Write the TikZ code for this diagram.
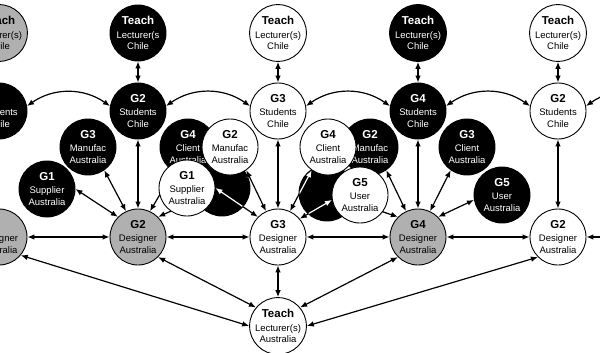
\documentclass[tikz,border=0pt]{standalone}
\usepackage{fontspec}
\setmainfont{Liberation Sans}
\usetikzlibrary{arrows.meta}
\definecolor{dgray}{RGB}{176,176,176}
\newcommand\ttl[1]{{\fontsize{11.5}{13}\selectfont\bfseries #1}}
\tikzset{
  base/.style={circle, draw=black, line width=0.9pt, minimum size=56pt, inner sep=0pt,
    align=center, font=\fontsize{9.5}{11.5}\selectfont},
  wn/.style={base, fill=white, text=black},
  bn/.style={base, fill=black, text=white},
  gn/.style={base, fill=dgray, text=black},
  arr/.style={{Latex[length=7pt,width=5.6pt]}-{Latex[length=7pt,width=5.6pt]}, line width=1.2pt},
  warr/.style={arr, white},
}
\begin{document}
\begin{tikzpicture}[x=1pt,y=1pt]
\useasboundingbox (0,0) rectangle (600,-353);
\clip (0,0) rectangle (600,-353);
% main columns
\node[gn] (tC0) at (-1,-33) {\ttl{Teach}\\[2pt]Lecturer(s)\\Chile};
\node[bn] (tC1) at (138,-33) {\ttl{Teach}\\[2pt]Lecturer(s\\Chile};
\node[wn] (tC2) at (278,-33) {\ttl{Teach}\\[2pt]Lecturer(s)\\Chile};
\node[bn] (tC3) at (418,-33) {\ttl{Teach}\\[2pt]Lecturer(s)\\Chile};
\node[wn] (tC4) at (558,-33) {\ttl{Teach}\\[2pt]Lecturer(s)\\Chile};
\node[bn] (s0) at (-1,-111) {\ttl{\phantom{G1}}\\[2pt]Students\\Chile};
\node[bn] (s1) at (138,-111) {\ttl{G2}\\[2pt]Students\\Chile};
\node[wn] (s2) at (278,-111) {\ttl{G3}\\[2pt]Students\\Chile};
\node[bn] (s3) at (418,-111) {\ttl{G4}\\[2pt]Students\\Chile};
\node[wn] (s4) at (558,-111) {\ttl{G2}\\[2pt]Students\\Chile};
\node[gn] (d0) at (-1,-237) {\ttl{\phantom{G1}}\\[2pt]Designer\\Australia};
\node[gn] (d1) at (138,-237) {\ttl{G2}\\[2pt]Designer\\Australia};
\node[wn] (d2) at (278,-237) {\ttl{G3}\\[2pt]Designer\\Australia};
\node[gn] (d3) at (418,-237) {\ttl{G4}\\[2pt]Designer\\Australia};
\node[wn] (d4) at (558,-237) {\ttl{G2}\\[2pt]Designer\\Australia};
\node[wn] (tA) at (278,-326) {\ttl{Teach}\\[2pt]Lecturer(s)\\Australia};
\coordinate (sR) at (671,-106);
\coordinate (dR) at (670,-237);
% black group nodes
\node[bn] (g1b) at (47,-189) {\ttl{G1}\\[2pt]Supplier\\Australia};
\node[bn] (g3mb) at (88,-147) {\ttl{G3}\\[2pt]Manufac\\Australia};
\node[bn] (g4cb) at (188,-147) {\ttl{G4}\\[2pt]Client\\Australia};
\node[bn] (bb1) at (222,-188) {};
\node[bn] (bb2) at (327,-193) {};
\node[bn] (g2mb) at (370,-147) {\ttl{G2}\\[2pt]Manufac\\Australia};
\node[bn] (g3cb) at (467,-147) {\ttl{G3}\\[2pt]Client\\Australia};
\node[bn] (g5b) at (502,-195) {\ttl{G5}\\[2pt]User\\Australia};
% black group arrows
\draw[arr] (g1b.0) -- (d1.135);
\draw[arr] (g3mb.-55) -- (d1.115);
\draw[arr] (g4cb) -- (d1.65);
\draw[arr] (bb1) -- (d1.45);
\draw[arr] (bb2) -- (d3.135);
\draw[arr] (g2mb.-55) -- (d3.115);
\draw[arr] (g3cb.235) -- (d3.65);
\draw[arr] (g5b.190) -- (d3.45);
% white group nodes
\node[wn] (g2mw) at (230,-147) {\ttl{G2}\\[2pt]Manufac\\Australia};
\node[wn] (g1w) at (187,-188) {\ttl{G1}\\[2pt]Supplier\\Australia};
\node[wn] (g4cw) at (328,-147) {\ttl{G4}\\[2pt]Client\\Australia};
\node[wn] (g5w) at (360,-195) {\ttl{G5}\\[2pt]User\\Australia};
% white group arrows
\draw[arr] (g1w.0) -- (d2.135);
\draw[arr] (g2mw.-55) -- (d2.115);
\draw[arr] (g4cw.235) -- (d2.65);
\draw[arr] (g5w.190) -- (d2.40);
\begin{scope}
  \clip (bb1.center) circle (27.5) (bb2.center) circle (27.5);
  \draw[warr] (g1w.0) -- (d2.135);
  \draw[warr] (g2mw.-55) -- (d2.115);
  \draw[warr] (g4cw.235) -- (d2.65);
  \draw[warr] (g5w.190) -- (d2.40);
\end{scope}
% main arrows
\foreach \i in {1,2,3,4}{
  \draw[arr] (tC\i) -- (s\i);
  \draw[arr] (s\i) -- (d\i);
}
\draw[arr] (tA) -- (d2);
\draw[arr] (s0.10) to[out=35,in=145] (s1.170);
\draw[arr] (s1.10) to[out=35,in=145] (s2.170);
\draw[arr] (s2.10) to[out=35,in=145] (s3.170);
\draw[arr] (s3.10) to[out=35,in=145] (s4.170);
\draw[arr] (s4.10) to[out=35,in=145] (sR);
\draw[arr] (d0) -- (d1);
\draw[arr] (d1) -- (d2);
\draw[arr] (d2) -- (d3);
\draw[arr] (d3) -- (d4);
\draw[arr] (d4) -- (dR);
\draw[arr] (tA.180) -- (d0.-40);
\draw[arr] (tA.140) -- (d1.-45);
\draw[arr] (tA.40) -- (d3.-135);
\draw[arr] (tA.0) -- (d4.-135);
\end{tikzpicture}
\end{document}
